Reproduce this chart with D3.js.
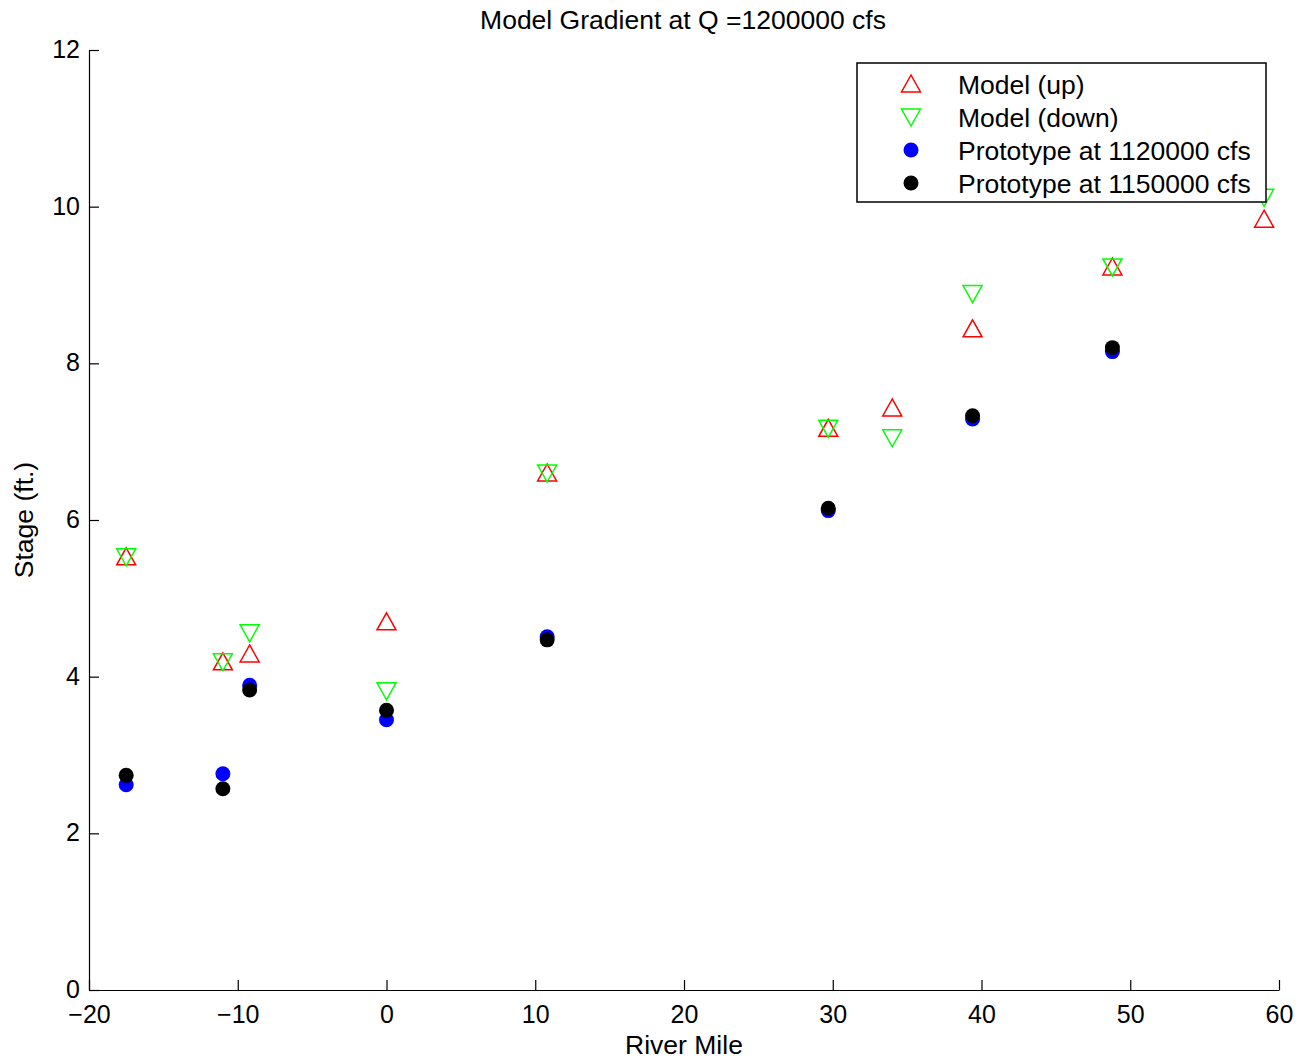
<!DOCTYPE html>
<html><head><meta charset="utf-8">
<script src="https://cdn.jsdelivr.net/npm/d3@7"></script>
<style>
body{margin:0;background:#fff;}
text{font-family:"Liberation Sans",Arial,Helvetica,sans-serif;}
</style></head>
<body><svg id="c" width="1312" height="1063"></svg>
<script>
const riverMile = [-17.5, -11.0, -9.2, 0, 10.8, 29.7, 34.0, 39.4, 48.8, 59.0];
const modelUp   = [5.53, 4.19, 4.29, 4.70, 6.60, 7.17, 7.43, 8.44, 9.23, 9.84];
const modelDown = [5.53, 4.19, 4.56, 3.82, 6.60, 7.17, 7.05, 8.89, 9.23, 10.12];
const protoMile = [-17.5, -11.0, -9.2, 0, 10.8, 29.7, 39.4, 48.8];
const proto1120 = [2.62, 2.76, 3.89, 3.45, 4.51, 6.12, 7.29, 8.15];
const proto1150 = [2.74, 2.57, 3.83, 3.57, 4.47, 6.15, 7.33, 8.20];
const xTicks = [-20, -10, 0, 10, 20, 30, 40, 50, 60];
const yTicks = [0, 2, 4, 6, 8, 10, 12];
const legendLabels = ["Model (up)", "Model (down)", "Prototype at 1120000 cfs", "Prototype at 1150000 cfs"];

const svg = d3.select("#c");
const L = 89, R = 1279, T = 50, B = 990;
const x = d3.scaleLinear().domain([-20, 60]).range([L, R]);
const y = d3.scaleLinear().domain([0, 12]).range([B, T]);
const fs = 26.5;
const fmt = d => (d < 0 ? "\u2212" + Math.abs(d) : "" + d);

// axes
const xa = svg.append("g").attr("transform", `translate(0,${B})`)
  .call(d3.axisBottom(x).tickValues(xTicks).tickSizeInner(-10).tickSizeOuter(0).tickPadding(15).tickFormat(fmt));
const ya = svg.append("g").attr("transform", `translate(${L},0)`)
  .call(d3.axisLeft(y).tickValues(yTicks).tickSizeInner(-10).tickSizeOuter(0).tickPadding(9).tickFormat(fmt));
[xa, ya].forEach(g => {
  g.select(".domain").attr("stroke", "#000").attr("stroke-width", 1.2);
  g.selectAll(".tick line").attr("stroke", "#000").attr("stroke-width", 1.2);
  g.selectAll(".tick text").attr("fill", "#000").style("font-size", "25px");
});
xa.selectAll(".tick text").attr("dy", "0.71em");
ya.selectAll(".tick text").attr("dy", "0.3em");

// title & labels
svg.append("text").attr("x", (L + R) / 2 - 1).attr("y", 29).attr("text-anchor", "middle")
  .style("font-size", fs + "px").text("Model Gradient at Q =1200000 cfs");
svg.append("text").attr("x", (L + R) / 2).attr("y", 1054).attr("text-anchor", "middle")
  .style("font-size", fs + "px").text("River Mile");
svg.append("text").attr("transform", `translate(33,${(T + B) / 2}) rotate(-90)`).attr("text-anchor", "middle")
  .style("font-size", fs + "px").text("Stage (ft.)");

const triUp = (cx, cy) => `M${cx},${cy - 9}L${cx + 9.5},${cy + 8}L${cx - 9.5},${cy + 8}Z`;
const triDn = (cx, cy) => `M${cx},${cy + 9}L${cx + 9.5},${cy - 8}L${cx - 9.5},${cy - 8}Z`;

const pts = svg.append("g");
pts.selectAll(".up").data(riverMile.map((m, i) => [m, modelUp[i]])).join("path")
  .attr("d", d => triUp(x(d[0]), y(d[1]))).attr("fill", "none").attr("stroke", "#ff0000").attr("stroke-width", 1.5);
pts.selectAll(".dn").data(riverMile.map((m, i) => [m, modelDown[i]])).join("path")
  .attr("d", d => triDn(x(d[0]), y(d[1]))).attr("fill", "none").attr("stroke", "#00ff00").attr("stroke-width", 1.5);
pts.selectAll(".p1").data(protoMile.map((m, i) => [m, proto1120[i]])).join("circle")
  .attr("cx", d => x(d[0])).attr("cy", d => y(d[1])).attr("r", 7.5).attr("fill", "#0000ff");
pts.selectAll(".p2").data(protoMile.map((m, i) => [m, proto1150[i]])).join("circle")
  .attr("cx", d => x(d[0])).attr("cy", d => y(d[1])).attr("r", 7.5).attr("fill", "#000");

// legend
const lg = svg.append("g");
lg.append("rect").attr("x", 857).attr("y", 63).attr("width", 409).attr("height", 139)
  .attr("fill", "#fff").attr("stroke", "#000").attr("stroke-width", 1.5);
const rowY = [84, 117, 150, 183];
legendLabels.forEach((lab, i) => {
  const cy = rowY[i], cx = 911;
  if (i === 0) lg.append("path").attr("d", triUp(cx, cy)).attr("fill", "none").attr("stroke", "#ff0000").attr("stroke-width", 1.5);
  else if (i === 1) lg.append("path").attr("d", triDn(cx, cy)).attr("fill", "none").attr("stroke", "#00ff00").attr("stroke-width", 1.5);
  else lg.append("circle").attr("cx", cx).attr("cy", cy).attr("r", 7.5).attr("fill", i === 2 ? "#0000ff" : "#000");
  lg.append("text").attr("x", 958).attr("y", cy).attr("dy", "0.36em").style("font-size", fs + "px").text(lab);
});
</script></body></html>
